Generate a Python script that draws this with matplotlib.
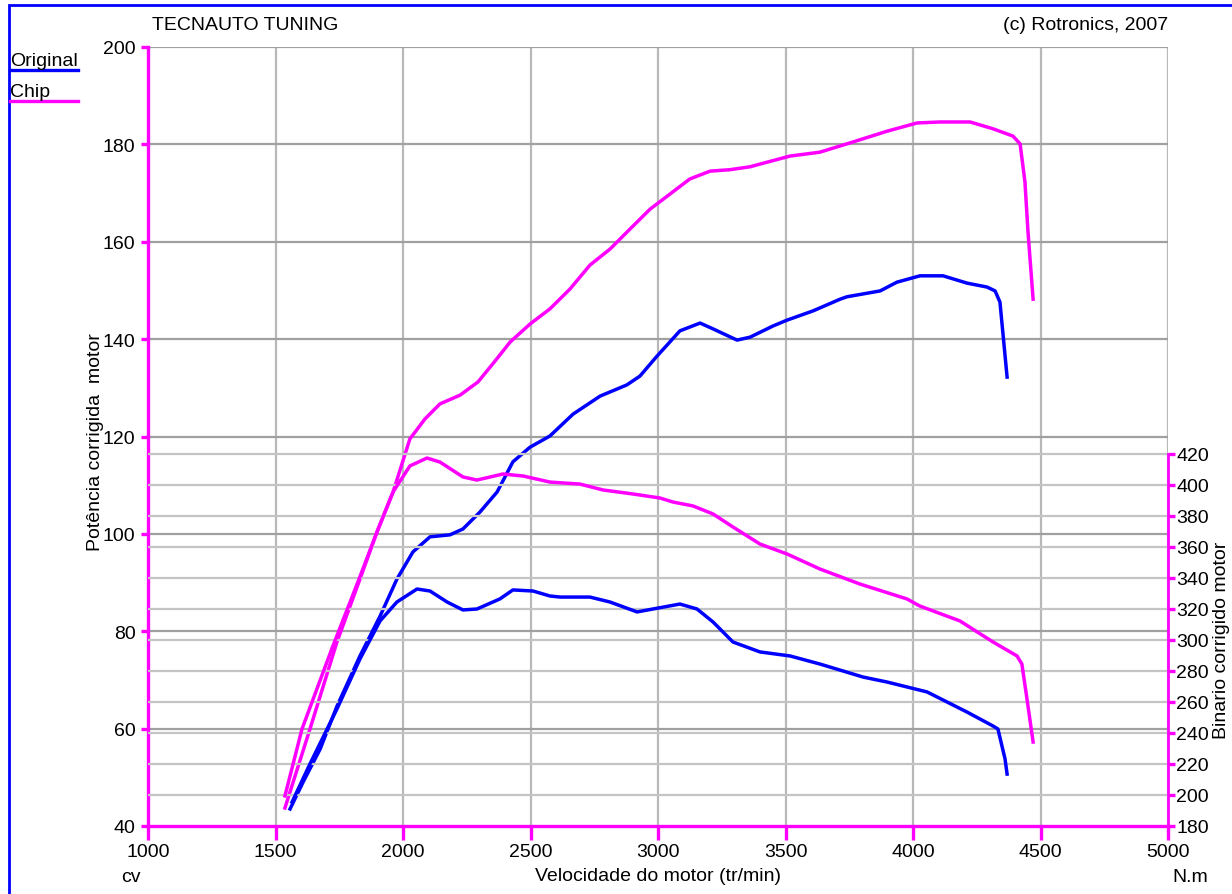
import matplotlib
matplotlib.use('Agg')
import matplotlib.pyplot as plt
from matplotlib.lines import Line2D
from matplotlib.patches import Rectangle

plt.rcParams['font.family'] = ['Liberation Sans', 'DejaVu Sans']

# Original: potencia (cv)
orig_pow_rpm = [1557, 1608, 1675, 1741, 1831, 1910, 1976, 2039, 2106, 2184, 2235, 2302,
                2369, 2431, 2498, 2576, 2667, 2773, 2878, 2929, 2996, 3086, 3165, 3216,
                3310, 3361, 3451, 3506, 3608, 3714, 3741, 3871, 3937, 4027, 4118, 4212,
                4290, 4322, 4341, 4369]
orig_pow = [43.5, 49.0, 55.8, 64.6, 74.9, 83.1, 90.7, 96.3, 99.4, 99.8, 101.0, 104.5,
            108.6, 114.8, 117.8, 120.1, 124.6, 128.3, 130.6, 132.4, 136.5, 141.7, 143.3, 142.1,
            139.8, 140.4, 142.7, 143.9, 145.8, 148.2, 148.7, 149.9, 151.7, 153.0, 153.0, 151.5,
            150.7, 149.9, 147.6, 132.2]

# Original: binario (N.m)
orig_trq_rpm = [1565, 1635, 1741, 1831, 1910, 1976, 2055, 2106, 2173, 2235, 2290, 2380,
                2431, 2510, 2576, 2616, 2733, 2812, 2918, 2980, 3086, 3153, 3216, 3294,
                3400, 3518, 3635, 3804, 3898, 4055, 4212, 4314, 4333, 4361, 4369]
orig_trq = [195.5, 220.0, 255.5, 287.7, 312.3, 324.5, 332.9, 331.6, 324.5, 319.4, 320.0, 326.5,
            332.3, 331.6, 328.4, 327.7, 327.7, 324.5, 318.1, 320.0, 323.2, 320.0, 311.6, 298.7,
            292.3, 289.7, 284.5, 276.1, 272.9, 266.5, 253.5, 244.5, 242.6, 223.2, 213.5]

# Chip: potencia (cv)
chip_pow_rpm = [1537, 1635, 1741, 1820, 1898, 1961, 2027, 2086, 2145, 2224, 2294, 2361,
                2420, 2498, 2576, 2655, 2733, 2812, 2890, 2969, 3047, 3125, 3204, 3282,
                3361, 3439, 3518, 3635, 3765, 3898, 4016, 4106, 4224, 4314, 4392, 4420,
                4439, 4451, 4471]
chip_pow = [43.7, 59.9, 77.8, 89.1, 100.4, 108.6, 119.5, 123.6, 126.7, 128.5, 131.2, 135.5,
            139.4, 143.1, 146.2, 150.3, 155.2, 158.5, 162.6, 166.7, 169.8, 172.9, 174.5, 174.8,
            175.4, 176.5, 177.6, 178.4, 180.5, 182.7, 184.4, 184.6, 184.6, 183.2, 181.7, 180.1,
            172.3, 162.0, 148.2]

# Chip: binario (N.m)
chip_trq_rpm = [1537, 1604, 1725, 1820, 1898, 1961, 2027, 2094, 2145, 2235, 2290, 2392,
                2471, 2576, 2694, 2784, 2902, 3008, 3059, 3137, 3216, 3294, 3400, 3506,
                3635, 3792, 3976, 4027, 4184, 4314, 4408, 4427, 4447, 4471]
chip_trq = [199.4, 242.6, 296.1, 336.1, 369.7, 395.5, 412.3, 417.4, 414.8, 405.2, 403.2, 407.1,
            405.8, 401.9, 400.6, 396.8, 394.2, 391.6, 389.0, 386.5, 381.3, 372.9, 361.9, 355.5,
            345.8, 336.1, 326.5, 321.9, 312.3, 298.7, 289.7, 284.5, 261.9, 234.2]

x_ticks = [1000, 1500, 2000, 2500, 3000, 3500, 4000, 4500, 5000]
pow_ticks = [40, 60, 80, 100, 120, 140, 160, 180, 200]
trq_ticks = [180, 200, 220, 240, 260, 280, 300, 320, 340, 360, 380, 400, 420]

BLUE = '#0000ff'
MAG = '#ff00ff'
FS = 14

fig = plt.figure(figsize=(12.32, 8.95), dpi=100)
ax = fig.add_axes([148 / 1232, 1 - 827 / 895, 1020 / 1232, 779 / 895])
ax2 = ax.twinx()

ax.set_xlim(1000, 5000)
ax.set_ylim(40, 200)
ax2.set_ylim(180, 180 + 779 / 1.55)

# grid
for x in x_ticks[1:]:
    ax.axvline(x, color='#b8b8b8', lw=1.6, zorder=0)
for y in pow_ticks[1:]:
    ax.axhline(y, color='#a0a0a0', lw=1.6, zorder=0)
for y in trq_ticks[1:]:
    ax2.axhline(y, color='#c4c4c4', lw=1.6, zorder=0)

ax2.plot(orig_trq_rpm, orig_trq, color=BLUE, lw=2.5, zorder=3, solid_joinstyle='round')
ax2.plot(chip_trq_rpm, chip_trq, color=MAG, lw=2.5, zorder=3, solid_joinstyle='round')
ax.plot(orig_pow_rpm, orig_pow, color=BLUE, lw=2.5, zorder=3, solid_joinstyle='round')
ax.plot(chip_pow_rpm, chip_pow, color=MAG, lw=2.5, zorder=3, solid_joinstyle='round')

for a in (ax, ax2):
    a.spines['top'].set_visible(False)
ax.spines['right'].set_visible(False)
ax2.spines['left'].set_visible(False)
ax2.spines['bottom'].set_visible(False)
ax.spines['left'].set_color(MAG)
ax.spines['left'].set_linewidth(2.4)
ax.spines['bottom'].set_color(MAG)
ax.spines['bottom'].set_linewidth(2.4)
ax2.spines['right'].set_color(MAG)
ax2.spines['right'].set_linewidth(2.0)
ax2.spines['right'].set_bounds(180, 420)

ax.set_xticks(x_ticks)
ax.set_yticks(pow_ticks)
ax2.set_yticks(trq_ticks)
ax.tick_params(axis='x', direction='out', length=10, width=2.4, color=MAG,
               labelsize=FS, pad=2)
ax.tick_params(axis='y', direction='out', length=5, width=2.4, color=MAG,
               labelsize=FS, pad=4)
ax2.tick_params(axis='y', direction='out', length=5, width=2.4, color=MAG,
                labelsize=FS, pad=1)

ax.set_ylabel('Potência corrigida  motor', fontsize=FS, va='center')
ax.yaxis.set_label_coords((95 - 148) / 1020, (827 - 442) / 779)
ax2.set_ylabel('Binario corrigido motor', fontsize=FS, va='center')
ax2.yaxis.set_label_coords((1221 - 148) / 1020, (827 - 640) / 779)
ax.set_xlabel('Velocidade do motor (tr/min)', fontsize=FS, va='center')
ax.xaxis.set_label_coords((658 - 148) / 1020, (827 - 877) / 779)

fig.text(152 / 1232, 1 - 26 / 895, 'TECNAUTO TUNING', fontsize=FS, va='center', ha='left')
fig.text(1168 / 1232, 1 - 26 / 895, '(c) Rotronics, 2007', fontsize=FS, va='center', ha='right')
fig.text(131 / 1232, 1 - 878 / 895, 'cv', fontsize=FS, va='center', ha='center')
fig.text(1190 / 1232, 1 - 878 / 895, 'N.m', fontsize=FS, va='center', ha='center')

# legend
fig.text(10 / 1232, 1 - 61 / 895, 'Original', fontsize=FS, va='center', ha='left')
fig.add_artist(Line2D([10 / 1232, 78 / 1232], [1 - 71 / 895, 1 - 71 / 895],
                      color=BLUE, lw=2.4, transform=fig.transFigure))
fig.text(10 / 1232, 1 - 93 / 895, 'Chip', fontsize=FS, va='center', ha='left')
fig.add_artist(Line2D([10 / 1232, 78 / 1232], [1 - 102 / 895, 1 - 102 / 895],
                      color=MAG, lw=2.4, transform=fig.transFigure))

# blue frame
fig.add_artist(Rectangle((9 / 1232, -0.1), 1.2, 1.1 - 6 / 895, fill=False,
                         edgecolor=BLUE, lw=2, transform=fig.transFigure))

fig.savefig('out.png', dpi=100)
